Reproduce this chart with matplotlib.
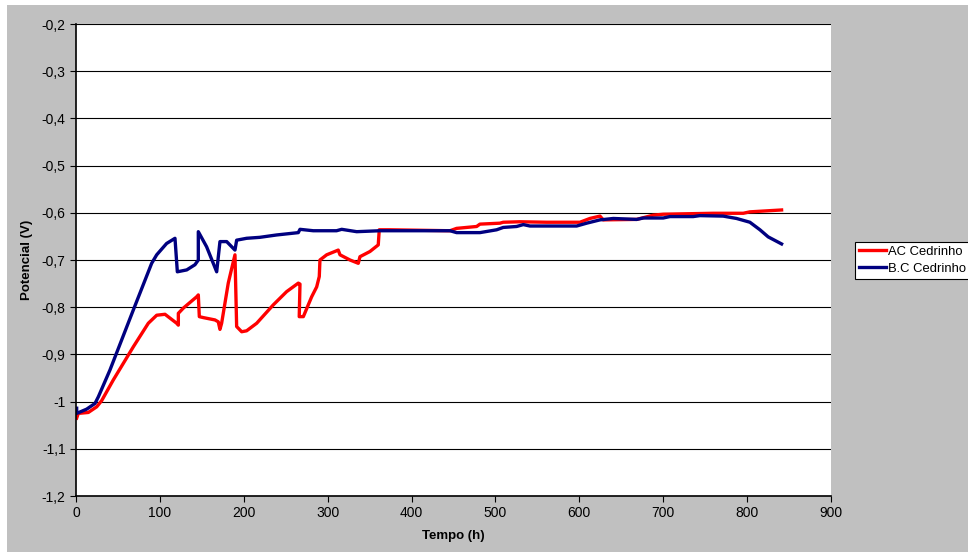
import matplotlib.pyplot as plt
from matplotlib.patches import Rectangle
from matplotlib.ticker import FuncFormatter

plt.rcParams['font.family'] = ['Liberation Sans', 'DejaVu Sans']

# AC Cedrinho (red)
ac_t = [0.8, 2.7, 14.7, 24.7, 30.6, 44.5, 68.3, 86.2, 96.2, 106.1, 120, 122, 122,
        127.9, 143.8, 145.8, 147, 151.7, 165.7, 169.6, 171.6, 173.6, 181.5, 185.6,
        189.5, 191.5, 197.5, 203.4, 215.4, 235.2, 251.1, 265, 267, 266.1, 271,
        280.9, 286.9, 290, 290.8, 298.8, 312.6, 314.7, 326.6, 336.5, 338.5, 350.4,
        360.3, 361.5, 374.3, 445.8, 453.7, 477.6, 481.5, 505.4, 509.3, 529.2, 561,
        600.7, 612.6, 624.6, 628.5, 668.3, 688.1, 700, 759.6, 795.4, 803.3, 841.1]
ac_v = [-1.035, -1.025, -1.023, -1.011, -0.998, -0.954, -0.884, -0.834, -0.817,
        -0.815, -0.834, -0.838, -0.813, -0.802, -0.778, -0.774, -0.820, -0.822,
        -0.827, -0.831, -0.847, -0.834, -0.749, -0.718, -0.689, -0.841, -0.852,
        -0.850, -0.834, -0.795, -0.767, -0.749, -0.751, -0.820, -0.820, -0.778,
        -0.757, -0.735, -0.700, -0.689, -0.679, -0.689, -0.700, -0.707, -0.693,
        -0.682, -0.668, -0.636, -0.636, -0.638, -0.633, -0.629, -0.624, -0.622,
        -0.620, -0.619, -0.620, -0.620, -0.612, -0.607, -0.615, -0.614, -0.605,
        -0.603, -0.601, -0.601, -0.598, -0.594]

# B.C Cedrinho (navy)
bc_t = [0.8, 0.8, 12.7, 22.6, 26.6, 40.5, 68.3, 90.2, 96.2, 108, 118, 120.8,
        132, 141.8, 145.8, 145.8, 155.7, 167.7, 171.6, 179.6, 189.5, 191.5, 203.4,
        219, 239, 265, 267, 282.8, 310.6, 316.7, 334.6, 362.3, 445.8, 453.7,
        481.5, 501.4, 509.3, 525.2, 533.2, 541.1, 596.8, 608.7, 624.6, 640.5,
        668.3, 676.3, 700, 708, 735.7, 743.7, 771.5, 787.4, 803.3, 815.3, 825.1,
        841.1]
bc_v = [-1.014, -1.025, -1.016, -1.004, -0.990, -0.933, -0.806, -0.707, -0.689,
        -0.665, -0.654, -0.725, -0.721, -0.710, -0.700, -0.640, -0.672, -0.725,
        -0.661, -0.661, -0.679, -0.658, -0.654, -0.652, -0.647, -0.642, -0.635,
        -0.638, -0.638, -0.635, -0.640, -0.638, -0.638, -0.642, -0.642, -0.636,
        -0.631, -0.629, -0.625, -0.628, -0.628, -0.622, -0.615, -0.612, -0.614,
        -0.611, -0.611, -0.608, -0.608, -0.606, -0.607, -0.612, -0.620, -0.636,
        -0.651, -0.666]

fig = plt.figure(figsize=(9.68, 5.53), dpi=100)
# grey chart area with a thin white margin on the left and top
fig.patches.append(Rectangle((7 / 968, 1 / 553), 1, 1 - 6 / 553,
                             transform=fig.transFigure, facecolor='#c0c0c0',
                             edgecolor='none', zorder=-10))

ax = fig.add_axes([76 / 968, 1 - 496 / 553, 755 / 968, 472 / 553])
ax.set_facecolor('white')

ax.plot(ac_t, ac_v, color='#ff0000', lw=2.4, label='AC Cedrinho')
ax.plot(bc_t, bc_v, color='#000080', lw=2.4, label='B.C Cedrinho')

ax.set_xlim(0, 900)
ax.set_ylim(-1.2, -0.2)
ax.set_xticks(range(0, 901, 100))
ax.set_yticks([-1.2 + 0.1 * i for i in range(11)])
ax.yaxis.set_major_formatter(FuncFormatter(lambda v, p: ('%g' % round(v, 1)).replace('.', ',')))
ax.grid(axis='y', color='black', lw=0.8)
ax.set_axisbelow(True)
for s in ['top', 'right']:
    ax.spines[s].set_visible(False)
ax.spines['left'].set_linewidth(1.2)
ax.spines['bottom'].set_linewidth(1.2)
ax.tick_params(direction='out', length=4, labelsize=10, colors='black')

ax.set_xlabel('Tempo (h)', fontsize=9.5, fontweight='bold', labelpad=7)
ax.set_ylabel('Potencial (V)', fontsize=9.5, fontweight='bold', labelpad=6)

leg = fig.legend(loc='upper left', bbox_to_anchor=(855 / 968, 1 - 242 / 553),
                 fontsize=9.4, frameon=True, fancybox=False, borderpad=0.3,
                 handlelength=2.1, handletextpad=0.1, labelspacing=0.35,
                 borderaxespad=0, framealpha=1, facecolor='white')
leg.get_frame().set_edgecolor('black')
leg.get_frame().set_linewidth(0.8)

plt.savefig('out.png', dpi=100, facecolor='white')
